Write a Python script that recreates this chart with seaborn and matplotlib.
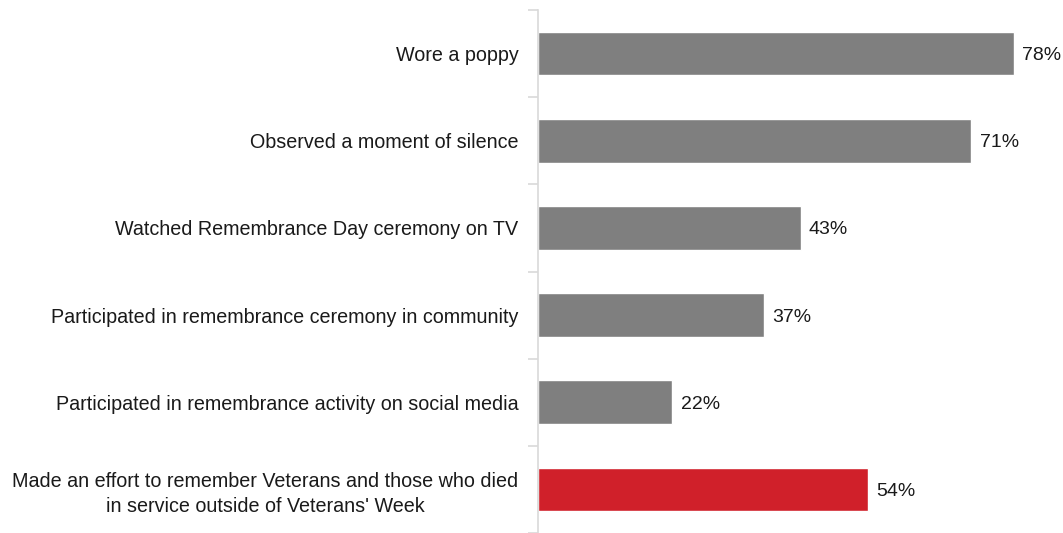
import numpy as np
import pandas as pd
import seaborn as sns
import matplotlib.pyplot as plt

activities = [
    "Wore a poppy",
    "Observed a moment of silence",
    "Watched Remembrance Day ceremony on TV",
    "Participated in remembrance ceremony in community",
    "Participated in remembrance activity on social media",
    "Made an effort to remember Veterans and those who died\nin service outside of Veterans' Week",
]
percent = [78, 71, 43, 37, 22, 54]
highlight = [False, False, False, False, False, True]

df = pd.DataFrame({"activity": activities, "percent": percent, "highlight": highlight})

sns.set_theme(style="white")
plt.rcParams["font.family"] = ["Liberation Sans", "DejaVu Sans"]

fig = plt.figure(figsize=(10.63, 5.33), dpi=100)
ax = fig.add_axes([538 / 1063, 0.0, 1 - 538 / 1063, 1 - 10 / 533])

sns.barplot(data=df, x="percent", y="activity", hue="highlight",
            palette={False: "#7f7f7f", True: "#d0202a"}, width=0.5,
            saturation=1, dodge=False, legend=False, ax=ax)

for container in ax.containers:
    texts = ax.bar_label(container, labels=[f"{v:.0f}%" for v in container.datavalues],
                         padding=6, fontsize=14, color="#1a1a1a")
    for t in texts:
        t.set_verticalalignment("center_baseline")

ax.set_xlim(0, 86)
ax.set_ylim(len(activities) - 0.5, -0.5)
ax.set_xlabel("")
ax.set_ylabel("")
ax.set_xticks([])

for side in ["top", "right", "bottom"]:
    ax.spines[side].set_visible(False)
ax.spines["left"].set_color("#d9d9d9")
ax.spines["left"].set_linewidth(1.2)

ax.tick_params(axis="y", which="major", length=0, pad=14, labelsize=14.2,
               labelcolor="#1a1a1a")
ax.set_yticks(np.arange(-0.5, len(activities)), minor=True)
ax.tick_params(axis="y", which="minor", length=7, width=1.2, color="#d9d9d9", left=True)
for lbl in ax.get_yticklabels():
    lbl.set_horizontalalignment("right")
    lbl.set_multialignment("center")
    lbl.set_linespacing(1.4)

fig.savefig("out.png", dpi=100)
